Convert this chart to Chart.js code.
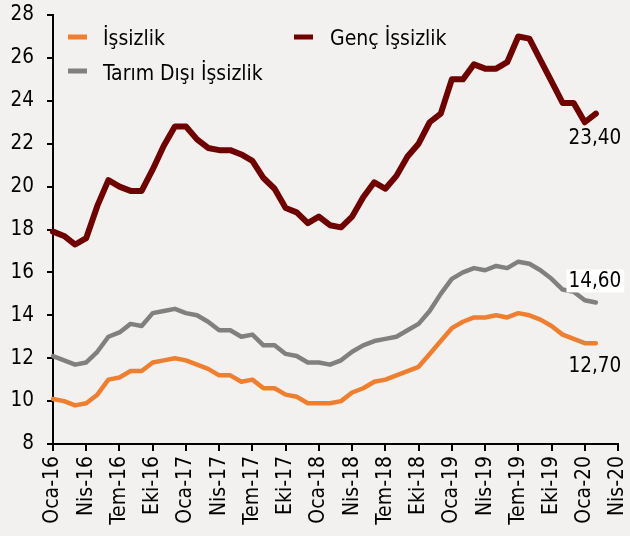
<!DOCTYPE html>
<html><head><meta charset="utf-8">
<script src="https://cdn.jsdelivr.net/npm/chart.js@4.4.1/dist/chart.umd.min.js"></script>
<style>html,body{margin:0;padding:0;background:#f2f1ef}#wrap{width:630px;height:536px}</style>
</head><body><div id="wrap"><canvas id="c" width="630" height="536"></canvas></div>
<script>
const months = [
 "Oca-16","Şub-16","Mar-16","Nis-16","May-16","Haz-16","Tem-16","Ağu-16","Eyl-16","Eki-16","Kas-16","Ara-16",
 "Oca-17","Şub-17","Mar-17","Nis-17","May-17","Haz-17","Tem-17","Ağu-17","Eyl-17","Eki-17","Kas-17","Ara-17",
 "Oca-18","Şub-18","Mar-18","Nis-18","May-18","Haz-18","Tem-18","Ağu-18","Eyl-18","Eki-18","Kas-18","Ara-18",
 "Oca-19","Şub-19","Mar-19","Nis-19","May-19","Haz-19","Tem-19","Ağu-19","Eyl-19","Eki-19","Kas-19","Ara-19",
 "Oca-20","Şub-20","Mar-20","Nis-20"];
const tickLabels = ["Oca-16","Nis-16","Tem-16","Eki-16","Oca-17","Nis-17","Tem-17","Eki-17","Oca-18","Nis-18","Tem-18","Eki-18","Oca-19","Nis-19","Tem-19","Eki-19","Oca-20","Nis-20"];
const yTicks = [8,10,12,14,16,18,20,22,24,26,28];
const seriesNames = ["İşsizlik","Genç İşsizlik","Tarım Dışı İşsizlik"];
const issizlik = [10.1,10.0,9.8,9.9,10.3,11.0,11.1,11.4,11.4,11.8,11.9,12.0,11.9,11.7,11.5,11.2,11.2,10.9,11.0,10.6,10.6,10.3,10.2,9.9,9.9,9.9,10.0,10.4,10.6,10.9,11.0,11.2,11.4,11.6,12.2,12.8,13.4,13.7,13.9,13.9,14.0,13.9,14.1,14.0,13.8,13.5,13.1,12.9,12.7,12.7];
const gencIssizlik = [17.9,17.7,17.3,17.6,19.1,20.3,20.0,19.8,19.8,20.8,21.9,22.8,22.8,22.2,21.8,21.7,21.7,21.5,21.2,20.4,19.9,19.0,18.8,18.3,18.6,18.2,18.1,18.6,19.5,20.2,19.9,20.5,21.4,22.0,23.0,23.4,25.0,25.0,25.7,25.5,25.5,25.8,27.0,26.9,25.9,24.9,23.9,23.9,23.0,23.4];
const tarimDisi = [12.1,11.9,11.7,11.8,12.3,13.0,13.2,13.6,13.5,14.1,14.2,14.3,14.1,14.0,13.7,13.3,13.3,13.0,13.1,12.6,12.6,12.2,12.1,11.8,11.8,11.7,11.9,12.3,12.6,12.8,12.9,13.0,13.3,13.6,14.2,15.0,15.7,16.0,16.2,16.1,16.3,16.2,16.5,16.4,16.1,15.7,15.2,15.1,14.7,14.6];

const FONT = '"DejaVu Sans Condensed","DejaVu Sans",sans-serif';
const colors = ["#ef7f30","#6e0000","#808080"];
const widths = [4.5,6,4.5];

const bgPlugin = {
  id:'bg',
  beforeDraw(chart){const c=chart.ctx;c.save();c.fillStyle='#f2f1ef';c.fillRect(0,0,chart.width,chart.height);c.restore();}
};
const legendPlugin = {
  id:'customLegend',
  afterDraw(chart){
    const c=chart.ctx; c.save();
    c.font='21px '+FONT; c.textBaseline='alphabetic'; c.fillStyle='#000';
    const items=[{d:0,mx:68,my:37,tx:103,ty:45},{d:1,mx:294,my:37,tx:330,ty:45},{d:2,mx:68,my:71,tx:103,ty:80}];
    items.forEach(it=>{
      c.fillStyle=colors[it.d];
      c.fillRect(it.mx,it.my-2.5,19,5);
      c.fillStyle='#000';
      c.fillText(seriesNames[it.d],it.tx,it.ty);
    });
    c.restore();
  }
};
const labelPlugin = {
  id:'endLabels',
  afterDatasetsDraw(chart){
    const c=chart.ctx; c.save();
    c.font='20.5px '+FONT; c.textAlign='center'; c.textBaseline='alphabetic';
    const cfg=[{d:1,dy:30,box:false},{d:2,dy:-15,box:true},{d:0,dy:29,box:false}];
    cfg.forEach(k=>{
      const meta=chart.getDatasetMeta(k.d);
      const arr=chart.data.datasets[k.d].data;
      const pt=meta.data[arr.length-1];
      const txt=arr[arr.length-1].toFixed(2).replace('.',',');
      const x=pt.x-1, y=pt.y+k.dy;
      const w=c.measureText(txt).width;
      if(k.box){c.fillStyle='#ffffff';c.fillRect(x-w/2-2,y-18,w+5,23);}
      c.fillStyle='#000';
      c.fillText(txt,x,y);
    });
    c.restore();
  }
};

new Chart(document.getElementById('c'),{
  type:'line',
  data:{
    labels:months,
    datasets:[
      {label:seriesNames[0],data:issizlik,borderColor:colors[0],borderWidth:widths[0]},
      {label:seriesNames[1],data:gencIssizlik,borderColor:colors[1],borderWidth:widths[1]},
      {label:seriesNames[2],data:tarimDisi,borderColor:colors[2],borderWidth:widths[2]}
    ].map(d=>Object.assign(d,{pointRadius:0,pointHoverRadius:0,tension:0,fill:false,borderJoinStyle:'round',borderCapStyle:'round'}))
  },
  options:{
    responsive:false,animation:false,devicePixelRatio:1,
    layout:{padding:{top:15,right:12,left:0,bottom:0}},
    plugins:{legend:{display:false},tooltip:{enabled:false}},
    scales:{
      x:{
        type:'category',offset:false,
        grid:{display:true,drawOnChartArea:false,drawTicks:true,tickLength:7,color:'#000',lineWidth:2},
        border:{display:true,color:'#000',width:2},
        ticks:{autoSkip:false,maxRotation:90,minRotation:90,padding:5,color:'#000',font:{family:FONT,size:21},
          callback:(v,i)=> tickLabels.includes(months[i]) ? months[i] : null},
        afterFit:(s)=>{s.height=92;s.paddingLeft=0;s.paddingRight=0;}
      },
      y:{
        min:8,max:28,
        grid:{display:true,drawOnChartArea:false,drawTicks:true,tickLength:6,color:'#000',lineWidth:2},
        border:{display:true,color:'#000',width:2},
        ticks:{stepSize:2,padding:13,color:'#000',font:{family:FONT,size:20.5},
          callback:(v)=> yTicks.includes(v) ? String(v) : null},
        afterFit:(s)=>{s.width=53;s.paddingTop=0;s.paddingBottom=0;}
      }
    }
  },
  plugins:[bgPlugin,legendPlugin,labelPlugin]
});
</script></body></html>
